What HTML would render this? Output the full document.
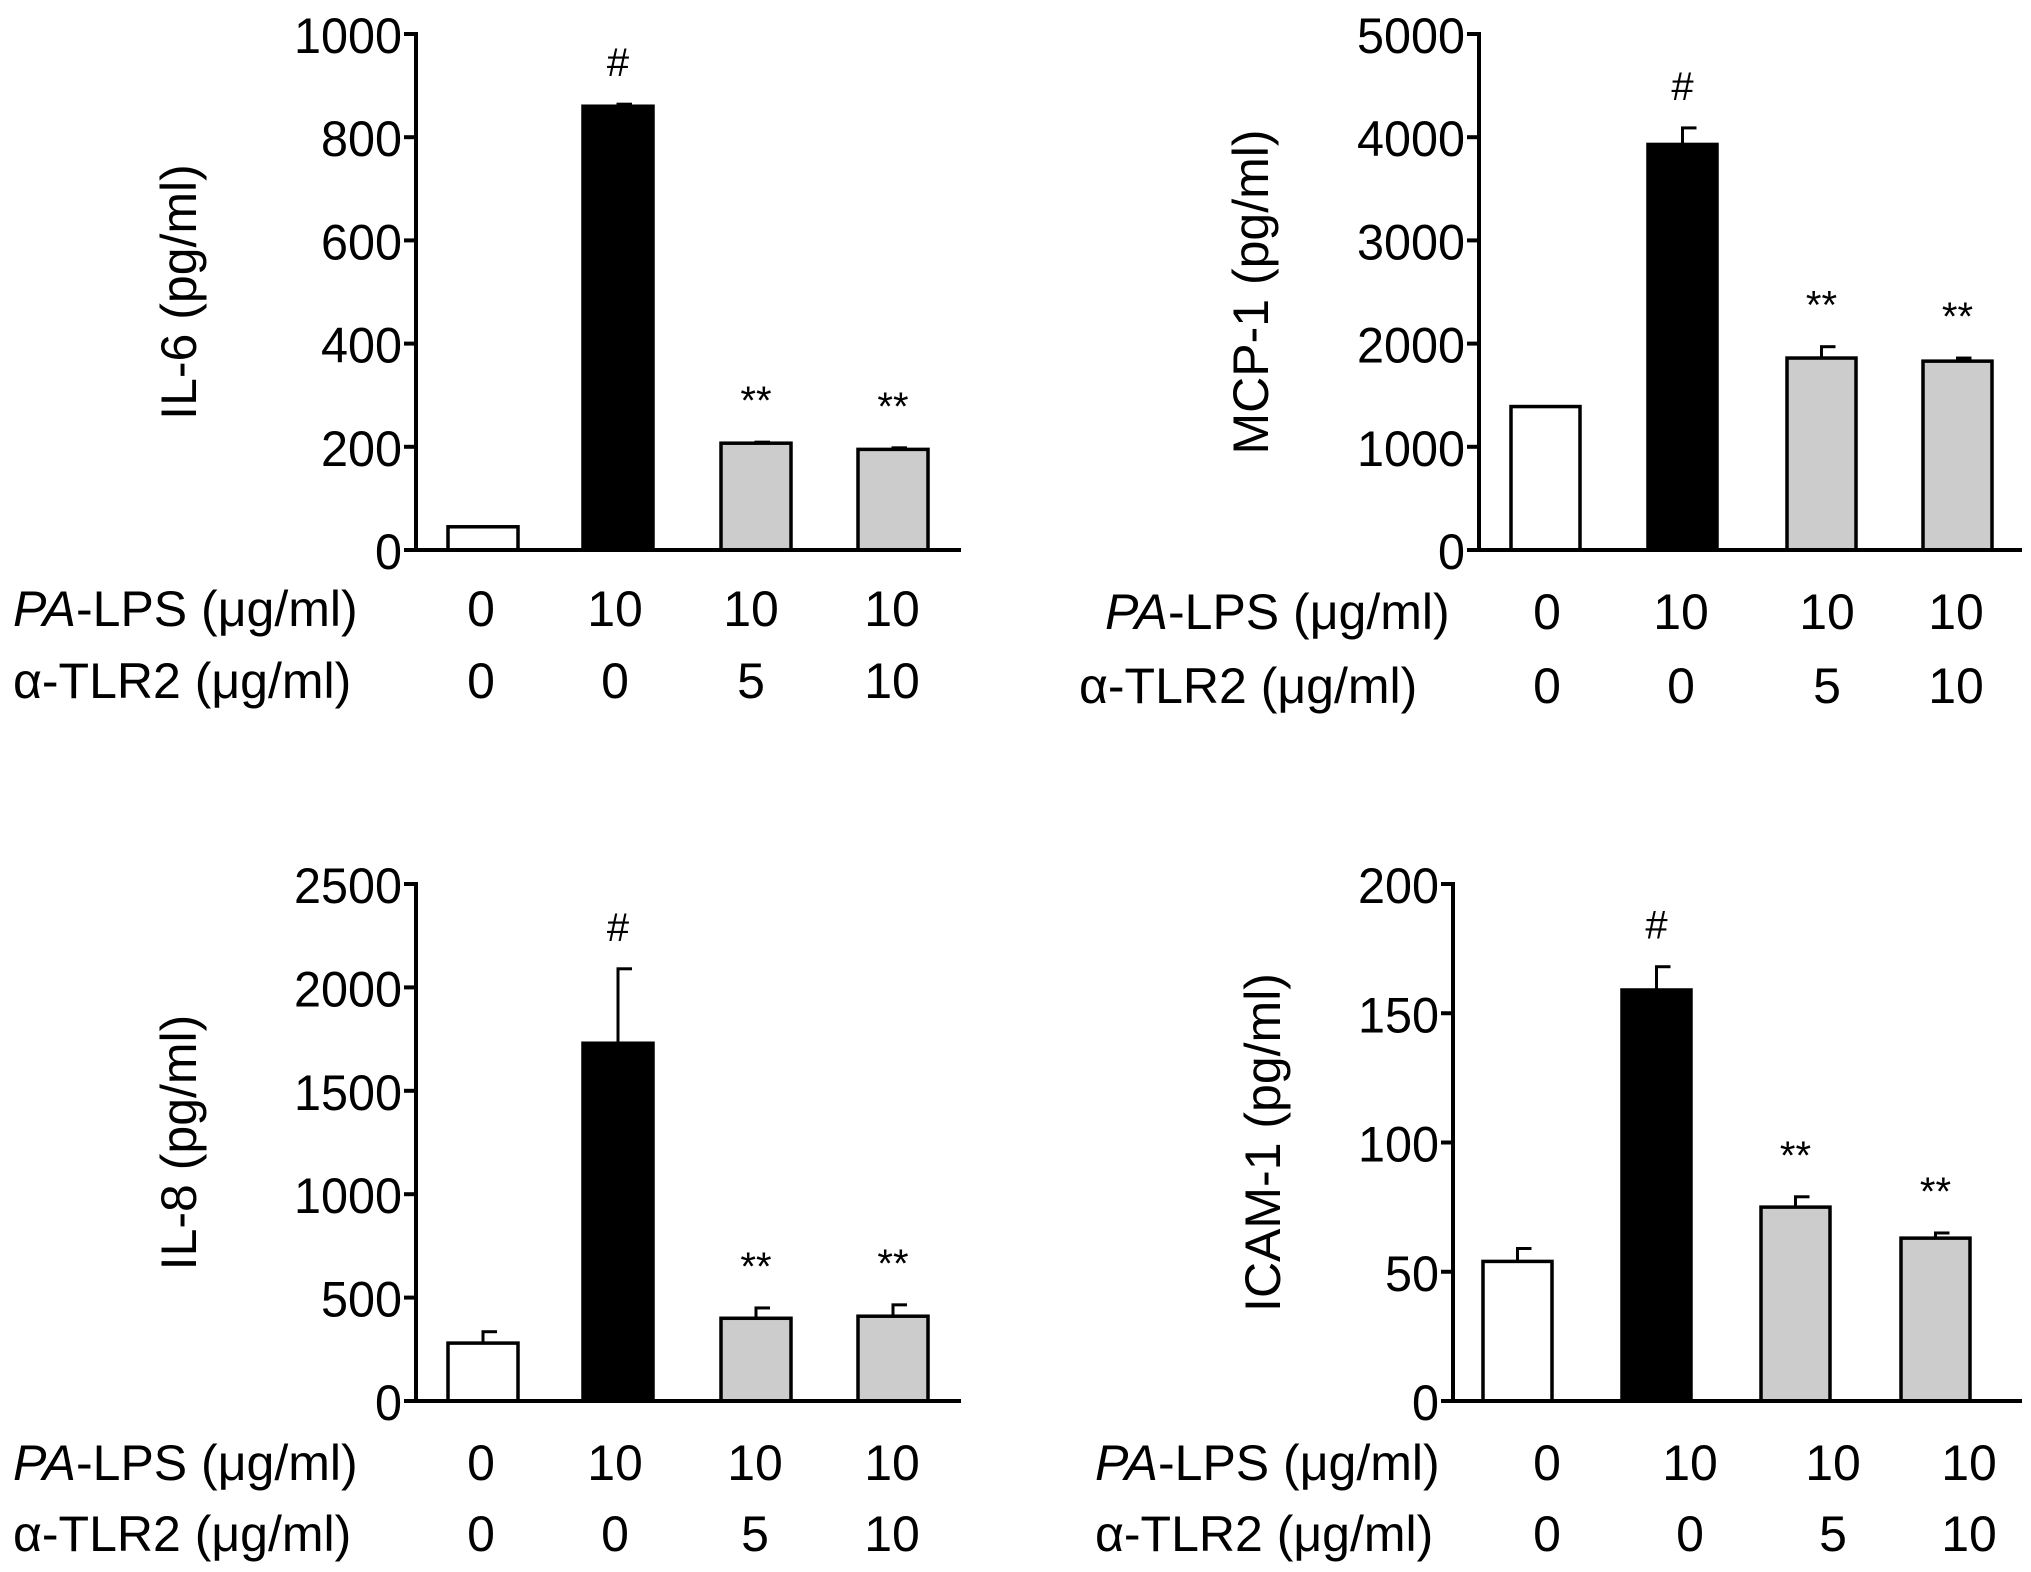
<!DOCTYPE html>
<html><head><meta charset="utf-8"><style>
html,body{margin:0;padding:0;background:#fff;}
svg{display:block;font-family:"Liberation Sans",Arial,sans-serif;}
</style></head><body>
<svg id="fig" width="2031" height="1572" viewBox="0 0 2031 1572" xmlns="http://www.w3.org/2000/svg"></svg>
<script>
const fills = ['#ffffff','#000000','#cccccc','#cccccc'];
const il6Values = [45, 860, 207, 195];
const il6Errors = [0, 4, 2, 3];
const il6Ticks = [0, 200, 400, 600, 800, 1000];
const mcpValues = [1390, 3930, 1860, 1830];
const mcpErrors = [0, 160, 110, 30];
const mcpTicks = [0, 1000, 2000, 3000, 4000, 5000];
const il8Values = [280, 1730, 400, 410];
const il8Errors = [55, 360, 50, 55];
const il8Ticks = [0, 500, 1000, 1500, 2000, 2500];
const icamValues = [54, 159, 75, 63];
const icamErrors = [5, 9, 4, 2];
const icamTicks = [0, 50, 100, 150, 200];
const annotations = ['', '#', '**', '**'];
const paLps = ['0', '10', '10', '10'];
const tlr2 = ['0', '0', '5', '10'];

const NS = 'http://www.w3.org/2000/svg';
const svg = document.getElementById('fig');
function el(tag, attrs, parent, text){
  const e = document.createElementNS(NS, tag);
  for (const k in attrs) e.setAttribute(k, attrs[k]);
  if (text !== undefined) e.textContent = text;
  (parent || svg).appendChild(e);
  return e;
}

const panels = [
  {key:'il6', title:'IL-6 (pg/ml)', vals:il6Values, errs:il6Errors, ticks:il6Ticks, ax:416, y0:550, ytop:34, xend:961, barL:[448,583,721,858], bw:70, titleX:178, lblX:13, lbl2X:13, valX:[481,615,751,892], r1:608, r2:680},
  {key:'mcp1', title:'MCP-1 (pg/ml)', vals:mcpValues, errs:mcpErrors, ticks:mcpTicks, ax:1479, y0:550, ytop:34, xend:2022, barL:[1511,1648,1787,1923], bw:69, titleX:1250, lblX:1105, lbl2X:1079, valX:[1547,1681,1827,1956], r1:611, r2:685},
  {key:'il8', title:'IL-8 (pg/ml)', vals:il8Values, errs:il8Errors, ticks:il8Ticks, ax:416, y0:1401, ytop:884, xend:961, barL:[448,583,721,858], bw:70, titleX:178, lblX:13, lbl2X:13, valX:[481,615,755,892], r1:1462, r2:1533},
  {key:'icam1', title:'ICAM-1 (pg/ml)', vals:icamValues, errs:icamErrors, ticks:icamTicks, ax:1453, y0:1401, ytop:884, xend:2022, barL:[1483,1622,1761,1901], bw:69, titleX:1262, lblX:1095, lbl2X:1095, valX:[1547,1690,1833,1969], r1:1462, r2:1533}
];

panels.forEach(p => {
  const g = el('g', {});
  
  
  const max = p.ticks[p.ticks.length-1];
  const y = v => p.y0 - (p.y0 - p.ytop) * v / max;

  p.vals.forEach((v, i) => {
    const x = p.barL[i];
    const err = p.errs[i];
    if (err > 0) {
      const eb = el('line', {x1:x+p.bw/2, x2:x+p.bw/2, y1:y(v), y2:y(v+err), stroke:'#000','stroke-width':3}, g);
      
      
      el('line', {x1:x+p.bw/2-1.5, x2:x+p.bw/2+14, y1:y(v+err), y2:y(v+err), stroke:'#000','stroke-width':3}, g);
    }
    const r = el('rect', {x:x, y:y(v), width:p.bw, height:p.y0 - y(v), fill:fills[i], stroke:'#000','stroke-width':3.5}, g);
    
    
    if (annotations[i]) {
      const t = el('text', {x:x+p.bw/2, y:y(v+err)-28, 'font-size':40, 'text-anchor':'middle'}, g, annotations[i]);
      
      
    }
  });

  const ya = el('line', {x1:p.ax, x2:p.ax, y1:p.ytop-2, y2:p.y0+2, stroke:'#000','stroke-width':4}, g);
  
  
  const xa = el('line', {x1:p.ax-2, x2:p.xend, y1:p.y0, y2:p.y0, stroke:'#000','stroke-width':4}, g);
  
  

  p.ticks.forEach(t => {
    el('line', {x1:p.ax-12, x2:p.ax, y1:y(t), y2:y(t), stroke:'#000','stroke-width':4}, g);
    const tl = el('text', {x:p.ax-14, y:y(t)+19, 'font-size':50, 'text-anchor':'end', textLength: String(t).length*27, lengthAdjust:'spacingAndGlyphs'}, g, String(t));
    
    
  });

  const yt = el('text', {x:0, y:0, 'font-size':50, 'text-anchor':'middle', transform:`translate(${p.titleX+18},${(p.ytop+p.y0)/2}) rotate(-90)`}, g, p.title);
  
  

  const l1 = el('text', {x:p.lblX, y:p.r1+18, 'font-size':50}, g);
  
  
  el('tspan', {'font-style':'italic'}, l1, 'PA');
  el('tspan', {}, l1, '-LPS (\u03BCg/ml)');
  const l2 = el('text', {x:p.lbl2X, y:p.r2+18, 'font-size':50}, g, '\u03B1-TLR2 (\u03BCg/ml)');
  
  

  p.valX.forEach((cx, i) => {
    const a = el('text', {x:cx, y:p.r1+18, 'font-size':50, 'text-anchor':'middle'}, g, paLps[i]);
    
    
    const b = el('text', {x:cx, y:p.r2+18, 'font-size':50, 'text-anchor':'middle'}, g, tlr2[i]);
    
    
  });
});
</script>
</body></html>
